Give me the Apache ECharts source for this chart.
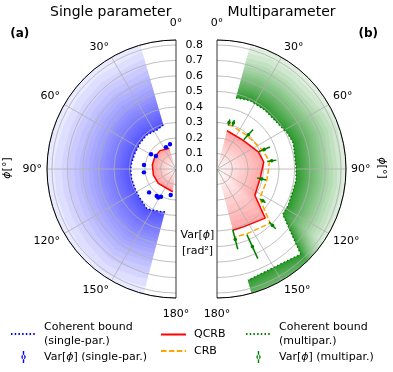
<!DOCTYPE html>
<html>
<head>
<meta charset="utf-8">
<script src="https://cdn.jsdelivr.net/npm/echarts@6/dist/echarts.min.js"></script>
<style>
  html, body { margin: 0; padding: 0; background: #fff; }
  #chart { width: 393px; height: 372px; }
</style>
</head>
<body>
<div id="chart"></div>
<script>
const FONT = 'DejaVu Sans';

// axes
const rMax = 0.832;
const rStep = 0.1;
const angleStep = 30;

// (a) single parameter
const singleBoundAngle = [16, 26, 40.8, 54.5, 69, 82.7, 90, 101.9, 115, 129, 143.3, 149.3, 161.5, 165.5];
const singleBound = [0.296, 0.28, 0.29, 0.286, 0.284, 0.289, 0.292, 0.293, 0.293, 0.3, 0.317, 0.308, 0.291, 0.285];
const singleQcrbAngle = [18, 41, 60, 80, 105, 129, 154, 172];
const singleQcrb = [0.14, 0.157, 0.157, 0.155, 0.151, 0.147, 0.138, 0.148];
const singleVarAngle = [13.6, 24.7, 57, 59.5, 83, 96, 131, 144.4, 148, 151.6, 168.5];
const singleVar = [0.164, 0.154, 0.154, 0.187, 0.208, 0.208, 0.23, 0.214, 0.217, 0.203, 0.171];
const singleVarErr = [0.008, 0.008, 0.008, 0.008, 0.008, 0.008, 0.008, 0.008, 0.008, 0.008, 0.008];

// (b) multiparameter
const multiBoundAngle = [15, 25.6, 39, 53, 63, 71, 88.5, 98, 105, 116.8, 124.5, 135.5, 164.5];
const multiBound = [0.475, 0.49, 0.49, 0.49, 0.51, 0.52, 0.51, 0.515, 0.51, 0.516, 0.515, 0.77, 0.745];
const multiAngle = [14.5, 19.6, 42.5, 67.5, 81.5, 102.5, 124.7, 135.5, 155.5, 165.5];
const multiQcrb = [0.255, 0.25, 0.25, 0.288, 0.305, 0.285, 0.297, 0.444, 0.41, 0.408];
const multiCrb = [0.293, 0.295, 0.29, 0.318, 0.342, 0.33, 0.335, 0.49, 0.46, 0.455];
const multiVar = [0.31, 0.315, 0.3, 0.33, 0.357, 0.295, 0.36, 0.51, 0.55, 0.47];
const multiVarErr = [0.02, 0.02, 0.045, 0.04, 0.03, 0.03, 0.02, 0.03, 0.085, 0.065];

const pairs = (vals, angles) => vals.map((v, i) => [v, angles[i]]);

// soft shading: n overlapping translucent rings between innerR(k, j) and outerR(k, j)
function bandSeries(polarIndex, angles, innerR, outerR, rgb, alpha, n) {
  const layers = [];
  for (let k = 0; k < n; k++) layers.push([k, 0]);
  return {
    type: 'custom', coordinateSystem: 'polar', polarIndex, clip: true, silent: true, z: 1,
    data: layers, encode: { radius: 0, angle: 1 },
    renderItem(params, api) {
      const k = api.value(0);
      const pts = [];
      for (let j = 0; j < angles.length; j++) pts.push(api.coord([outerR(k, j), angles[j]]));
      for (let j = angles.length - 1; j >= 0; j--) pts.push(api.coord([innerR(k, j), angles[j]]));
      return { type: 'polygon', shape: { points: pts }, style: { fill: 'rgba(' + rgb + ',' + alpha.toFixed(4) + ')' } };
    }
  };
}

// layer k is covered by k + 0.5 rings -> fraction of the target opacity reached there
const coverFrac = (k, n, total) => {
  const alpha = 1 - Math.pow(1 - total, 1 / n);
  return (1 - Math.pow(1 - alpha, k + 0.5)) / total;
};

// fades outward from a bound: opacity total * (1 - d / width) ^ p
function fadeOut(polarIndex, angles, bound, rgb, width, p, total, n) {
  const alpha = 1 - Math.pow(1 - total, 1 / n);
  const reach = k => width * (1 - Math.pow(coverFrac(k, n, total), 1 / p));
  return bandSeries(polarIndex, angles, (k, j) => bound[j], (k, j) => bound[j] + reach(k), rgb, alpha, n);
}

// fills from the centre to a curve, opacity rising linearly towards the curve
function fadeIn(polarIndex, angles, curve, rgb, total, n) {
  const alpha = 1 - Math.pow(1 - total, 1 / n);
  return bandSeries(polarIndex, angles, (k, j) => curve[j] * coverFrac(k, n, total), (k, j) => curve[j], rgb, alpha, n);
}

function errorBarItem(color, dotR) {
  return function (params, api) {
    const r = api.value(0), t = api.value(1), e = api.value(2);
    const lo = api.coord([r - e, t]);
    const hi = api.coord([r + e, t]);
    const c = api.coord([r, t]);
    return {
      type: 'group',
      children: [
        { type: 'line', shape: { x1: lo[0], y1: lo[1], x2: hi[0], y2: hi[1] }, style: { stroke: color, lineWidth: 1.5 } },
        { type: 'circle', shape: { cx: c[0], cy: c[1], r: dotR }, style: { fill: color } }
      ]
    };
  };
}

function angleAxis(polarIndex, clockwise, endAngle) {
  return {
    polarIndex, type: 'value', min: 0, max: 180, interval: angleStep,
    startAngle: 90, endAngle, clockwise, z: 3,
    axisLine: { lineStyle: { color: '#000', width: 1 } },
    axisTick: { show: false },
    axisLabel: {
      margin: 5, color: '#000', fontSize: 11, fontFamily: FONT,
      formatter: v => v === 0 ? '{t|0°}' : v === 180 ? '{b|180°}' : v + '°',
      rich: {
        t: { fontSize: 11, fontFamily: FONT, color: '#000', padding: [0, 0, 6, 0] },
        b: { fontSize: 11, fontFamily: FONT, color: '#000', padding: [6, 0, 0, 0] }
      }
    },
    splitLine: { show: true, lineStyle: { width: 0.8, color: ['#000', '#b0b0b0', '#b0b0b0', '#b0b0b0', '#b0b0b0', '#b0b0b0', '#000'] } }
  };
}

function radiusAxis(polarIndex, showLabels) {
  return {
    polarIndex, type: 'value', min: 0, max: rMax, interval: rStep, z: 3,
    axisLine: { show: false },
    axisTick: { show: false },
    axisLabel: {
      show: showLabels, margin: 14, color: '#000', fontSize: 11, fontFamily: FONT,
      showMaxLabel: false, formatter: v => v.toFixed(1)
    },
    splitLine: { show: true, lineStyle: { color: '#b0b0b0', width: 0.8 } }
  };
}

const ERR_ICON = 'path://M0,0L0,0M25,14L25,14M11.8,1h1.4v12h-1.4zM10.3,7a2.2,2.2 0 1,0 4.4,0a2.2,2.2 0 1,0 -4.4,0z';
const legendText = {
  color: '#000', fontSize: 11, fontFamily: FONT, lineHeight: 14, padding: [0, 0, 0, 3],
  rich: { i: { fontStyle: 'italic', fontSize: 11, fontFamily: FONT, color: '#000' } }
};
const legendFmt = name => name.replace('ϕ', '{i|ϕ}');
const lineEntry = name => ({ name, itemStyle: { opacity: 0 } });

const series = [
  // (a)
  fadeOut(0, singleBoundAngle, singleBound, '0,0,255', 0.7, 1.5, 0.65, 24),
  fadeIn(0, singleQcrbAngle, singleQcrb, '255,0,0', 0.36, 10),
  {
    name: 'Coherent bound\n(single-par.)', type: 'line', coordinateSystem: 'polar', polarIndex: 0,
    data: pairs(singleBound, singleBoundAngle), symbol: 'none', z: 4,
    itemStyle: { color: '#0000ff' }, lineStyle: { color: '#0000ff', width: 1.5, type: [1.5, 2.2] }
  },
  {
    name: 'QCRB', type: 'line', coordinateSystem: 'polar', polarIndex: 0,
    data: pairs(singleQcrb, singleQcrbAngle), symbol: 'none', z: 5,
    itemStyle: { color: '#ff0000' }, lineStyle: { color: '#ff0000', width: 1.5 }
  },
  {
    name: 'Var[ϕ] (single-par.)', type: 'custom', coordinateSystem: 'polar', polarIndex: 0,
    data: singleVar.map((v, i) => [v, singleVarAngle[i], singleVarErr[i]]),
    encode: { radius: 0, angle: 1 }, renderItem: errorBarItem('#0000ff', 2.2),
    itemStyle: { color: '#0000ff' }, z: 6
  },
  // (b)
  fadeOut(1, multiBoundAngle, multiBound, '0,128,0', 0.45, 1.5, 0.8, 24),
  fadeIn(1, multiAngle, multiQcrb, '255,0,0', 0.32, 10),
  {
    name: 'Coherent bound\n(multipar.)', type: 'line', coordinateSystem: 'polar', polarIndex: 1,
    data: pairs(multiBound, multiBoundAngle), symbol: 'none', z: 4,
    itemStyle: { color: '#008000' }, lineStyle: { color: '#008000', width: 1.5, type: [1.5, 2.2] }
  },
  {
    name: 'QCRB', type: 'line', coordinateSystem: 'polar', polarIndex: 1,
    data: pairs(multiQcrb, multiAngle), symbol: 'none', z: 5,
    itemStyle: { color: '#ff0000' }, lineStyle: { color: '#ff0000', width: 1.5 }
  },
  {
    name: 'CRB', type: 'line', coordinateSystem: 'polar', polarIndex: 1,
    data: pairs(multiCrb, multiAngle), symbol: 'none', z: 5,
    itemStyle: { color: '#ffa500' }, lineStyle: { color: '#ffa500', width: 1.5, type: [5.5, 2.4] }
  },
  {
    name: 'Var[ϕ] (multipar.)', type: 'custom', coordinateSystem: 'polar', polarIndex: 1,
    data: multiVar.map((v, i) => [v, multiAngle[i], multiVarErr[i]]),
    encode: { radius: 0, angle: 1 }, renderItem: errorBarItem('#008000', 1.8),
    itemStyle: { color: '#008000' }, z: 6
  }
];

const text = (x, y, str, opt) => ({
  type: 'text', x, y,
  style: Object.assign({
    text: str, fill: '#000', fontSize: 11, fontFamily: FONT, align: 'center', verticalAlign: 'middle',
    rich: { i: { fontStyle: 'italic', fontSize: 11, fontFamily: FONT, fill: '#000' } }
  }, opt || {})
});

const chart = echarts.init(document.getElementById('chart'));
chart.setOption({
  animation: false,
  backgroundColor: '#fff',
  polar: [
    { center: [176, 169], radius: [0, 129] },
    { center: [217, 169], radius: [0, 129] }
  ],
  angleAxis: [angleAxis(0, false, 270), angleAxis(1, true, -90)],
  radiusAxis: [radiusAxis(0, false), radiusAxis(1, true)],
  legend: [
    {
      left: 10, top: 320, orient: 'vertical', padding: 0, itemGap: 2, itemWidth: 25, itemHeight: 14,
      selectedMode: false, textStyle: legendText, formatter: legendFmt,
      data: [lineEntry('Coherent bound\n(single-par.)'), { name: 'Var[ϕ] (single-par.)', icon: ERR_ICON }]
    },
    {
      left: 160, top: 327.5, orient: 'vertical', padding: 0, itemGap: 2.5, itemWidth: 25, itemHeight: 14,
      selectedMode: false, textStyle: legendText, formatter: legendFmt,
      data: [lineEntry('QCRB'), lineEntry('CRB')]
    },
    {
      left: 245, top: 320, orient: 'vertical', padding: 0, itemGap: 2, itemWidth: 25, itemHeight: 14,
      selectedMode: false, textStyle: legendText, formatter: legendFmt,
      data: [lineEntry('Coherent bound\n(multipar.)'), { name: 'Var[ϕ] (multipar.)', icon: ERR_ICON }]
    }
  ],
  graphic: [
    text(110.7, 12, 'Single parameter', { fontSize: 14 }),
    text(281.5, 12, 'Multiparameter', { fontSize: 14 }),
    text(19.7, 34, '(a)', { fontSize: 12, fontWeight: 'bold' }),
    text(368.3, 34, '(b)', { fontSize: 12, fontWeight: 'bold' }),
    Object.assign(text(7, 168, '{i|ϕ}[°]'), { rotation: Math.PI / 2 }),
    Object.assign(text(382, 168, '{i|ϕ}[°]'), { rotation: -Math.PI / 2 }),
    text(197.5, 235, 'Var[{i|ϕ}]'),
    text(197.5, 251, '[rad²]')
  ],
  series
});
</script>
</body>
</html>
